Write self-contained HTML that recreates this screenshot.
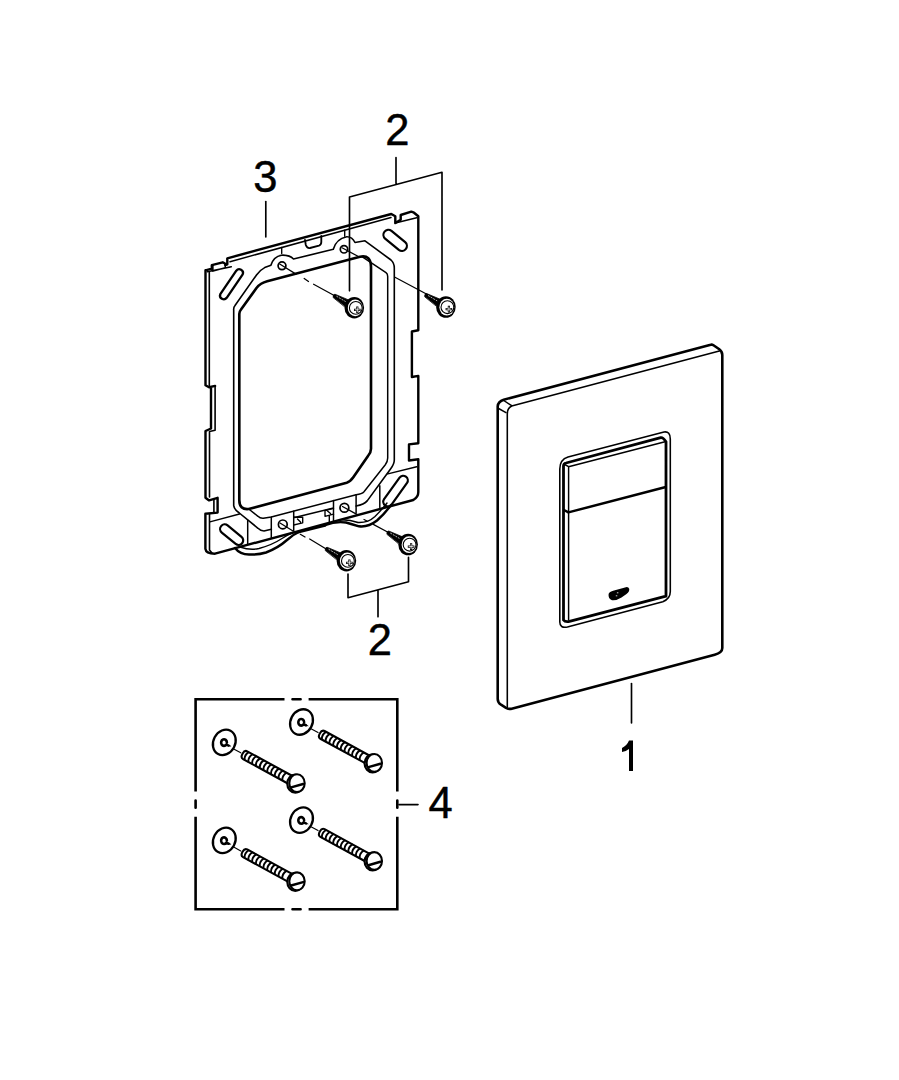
<!DOCTYPE html>
<html><head><meta charset="utf-8">
<style>
html,body{margin:0;padding:0;background:#fff;width:899px;height:1080px;overflow:hidden}
svg{position:absolute;left:0;top:0;display:block}
text{font-family:"Liberation Sans",sans-serif;font-size:43.5px;fill:#000;stroke:#000;stroke-width:0.45px}
</style></head><body>
<svg width="899" height="1080" viewBox="0 0 899 1080" fill="none" stroke="#000" stroke-linejoin="round" stroke-linecap="round">

<!-- ============ LABELS ============ -->
<g stroke="none">
<text x="385.3" y="144.8">2</text>
<text x="253.3" y="191.6">3</text>
<text x="367.8" y="654.5">2</text>
<path fill="#000" d="M629,740.5 H633 V771 H629 V749 Q626,751.5 622,752 V748 Q627,745.5 629,740.5 Z"/>
<text x="428.6" y="818.2">4</text>
</g>

<!-- leader lines -->
<g stroke-width="1.65">
<path d="M396,157.5 V183.5 M349.5,197 L442,172.3 M349.5,197 V290.8 M442,172.3 V290"/>
<path d="M265.8,201.5 V237"/>
<path d="M348,574 V597.7 L408.5,581.7 V557.4 M378,590 V616.8"/>
<path d="M631.5,683.5 V723"/>
<path d="M399,804.6 H418"/>
</g>

<!-- ============ FRAME (3) ============ -->
<g id="frame">
<!-- plate outline -->
<path stroke-width="2.42" d="M205.5,270.3 V385.3 L209,387.2 L215.1,385.9 M211,387.2 V428.5 L205.5,431 V497.8 L209.1,500.4 L217.6,497.8 V512.6 L205.4,513.7 V548.9 Q206,553.7 215,553.7 L413.3,500 Q418.3,497 418.3,492.2 V459.3 L409,460.5 V444.4 L418.3,443.2 V375.9 L411.9,377 V331.5 L418.3,330.3 V216.3 L414,212.7 L411.3,211.7 L400.7,215 V219.7 L395.3,223 V216.3 L391.3,214 L227.3,258.3 V264.3 L225.3,265 V263.7 L222.7,262.3 L211.8,265.2 V268.7 L205.5,270.3"/>
<!-- left thickness inner line -->
<path stroke-width="2.30" d="M212.5,265.5 V270.5"/><path stroke-width="1.61" d="M209.3,272 V386.5 M215.1,385.9 V430.3 L209.5,431.5 V497 M213.9,500 V512 M209.5,514 V550 L212,553"/>
<!-- top thickness inner line -->
<path stroke-width="1.49" d="M207.3,271.7 L231.3,266.7 M213,271 L225.3,267.7 M225.3,264 V268 M230,261.7 L391,217.5 M395.3,223 L416.7,217.8"/>
<!-- U cutout top -->
<path stroke-width="1.84" d="M305,240 L305.8,245 Q307,248.5 310,248 L319,245.6 Q321.3,244.8 321.3,242 V236"/>
<!-- fold tick -->
<path stroke-width="1.38" d="M344.7,230.3 V236.3 M281.7,247.5 V253.5"/>
<!-- top slots -->
<path stroke-width="2.30" d="M220.3,294.2 L236.3,270.7 A3.7,3.7 0 0 1 242.7,274.3 L226.7,297.8 A3.7,3.7 0 0 1 220.3,294.2 Z"/>
<path stroke-width="2.2" d="M385.12,238.56 L398.82,249.86 A5,5 0 0 0 405.18,242.15 L391.48,230.85 A5,5 0 0 0 385.12,238.56 Z"/>
<!-- bottom slots -->
<path stroke-width="2.2" d="M221.78,532.56 L235.68,543.96 A4.6,4.6 0 0 0 241.52,536.84 L227.62,525.44 A4.6,4.6 0 0 0 221.78,532.56 Z"/>
<path stroke-width="2.2" d="M384.07,499.22 L399.57,477.62 A4.6,4.6 0 0 1 407.04,482.98 L391.54,504.58 A4.6,4.6 0 0 1 384.07,499.22 Z"/>
<!-- fold line bottom -->
<path stroke-width="1.49" d="M209.9,521.9 L239.5,514 M387.8,473.9 L416.7,466.7"/>
<!-- holes -->
<circle cx="282" cy="265.8" r="3.9" stroke-width="1.72"/>
<circle cx="344" cy="249.3" r="3.7" stroke-width="1.72"/>
<circle cx="282.8" cy="524.4" r="4.4" stroke-width="1.72"/>
<circle cx="344.4" cy="507.8" r="4.4" stroke-width="1.72"/>
<!-- gasket thin outer -->
<path stroke-width="1.61" d="M271.3,529.3 L264,531 Q260.5,531 258,528.3 L239.3,513 Q234.5,510 233.7,505.7 V310 Q233.4,307.5 235,305.5 L256.5,275 Q260,270 264.7,267.6 L270.9,265.3 Q273.5,256.5 281.5,255.2 Q289.5,254.8 293.5,259 L333.3,249.3 Q336,239 346.7,236.7 Q352,236.5 355,242.5 L365,240.8 L391,260 Q394.3,263 394.3,268 V460 Q394.3,464 390.7,468.7 L367.4,500.6 Q364,504.5 356.1,506"/>
<!-- gasket thick inner -->
<path stroke-width="2.64" d="M239.3,314 Q239.3,311.5 241,309.5 L256.5,288 Q260.5,283 267.2,281.3 L360,256.8 Q371,254.5 371,267 V448.7 Q371,452.5 368,456 L353.3,477.3 Q350.5,481.5 346.7,482.7 L248.7,509 Q239.3,510 239.3,500 Z"/>
<!-- gasket middle thin -->
<path stroke-width="1.49" d="M362,256.6 L386,272.6 Q387.7,273.8 387.7,276.5 V458 Q387.7,461.5 385.3,464.7 L364,491.7 Q362,494 356.1,494.7 L271.3,517 L263.3,518.3 Q260,518.5 258,516.3 L248.7,509"/>
<!-- boxes at bottom -->
<path stroke-width="1.49" d="M271.3,517 V537.7 M293.7,511.2 V531 M333.5,500.6 V520.8 M356.1,494.7 V513 M379.8,485.8 V507.6 M247.7,520.3 V544.3 M293.7,517.7 L333.5,508"/>
<path stroke-width="1.38" d="M293.7,517.2 H302.7 V522.8 L293.7,525 M297.5,519 L300.5,522 M333.5,508.4 L325,510.5 V516.3 L333.5,514.2 M327.5,511 L330.5,513.5 M329.3,515.5 V522.3"/>
<!-- clips (curved springs) -->
<path stroke-width="2.42" d="M235,548 Q240,554.5 249,554.5 Q258,555 266,552.5 Q278,548 287,540 Q293,534.5 299,532"/>
<path stroke-width="1.38" d="M240,547 Q250,550.5 259,548.5 Q272,545 282,538.5 Q288,534.5 293,532.5"/>
<path stroke-width="2.76" d="M299,532 L325,525.5"/>
<path stroke-width="2.42" d="M325,525 Q336,521 346,522.5 Q353,524.5 359,526.3 Q368,527.5 377,520.5 Q385,513.5 391,505"/>
<path stroke-width="1.38" d="M340,519.8 Q350,519.5 358,522.5 Q368,523 375,516.5 Q382,509.5 387,503"/>
<!-- dashed lines to screws -->
<path stroke-width="1.26" d="M279.7,264 L296,274.1 M304.2,278.4 L308.5,281.5 M313.6,284.2 L334.2,295.5"/>
<path stroke-width="1.26" d="M342,247.8 L358.9,256.8 M394.5,277 L428.3,295"/>
<path stroke-width="1.26" d="M280,523 L293,531 M300.3,534.3 L305,537 M309.7,539 L327,549.5"/>
<path stroke-width="1.26" d="M342.5,506.5 L357.3,514.6 M364,519.5 L367,521 M373.3,524.4 L388,532.2"/>
</g>

<!-- ============ COVER PLATE (1) ============ -->
<g id="cover">
<!-- outer silhouette -->
<path stroke-width="2.58" d="M497.7,406.3 Q498,401.5 503.7,399.7 L710.7,344.7 Q712,344.3 713.5,345.3 L719.3,349.3 Q722.3,351.5 722.3,355 V648 Q722.3,652.5 714.7,654.7 L511.7,708.7 Q509,709.3 506,707.8 L501,704.7 Q497.7,702.5 497.7,699 Z"/>
<!-- front face edges -->
<path stroke-width="1.57" d="M507.3,707.3 V414 Q507.3,408 511.7,406 L719.3,351"/>
<path stroke-width="1.46" d="M503,400 L511.7,405.7 M497.7,408 L506,412.7"/>
<!-- button outer thin frame -->
<path stroke-width="1.57" d="M559.8,621.9 V469 Q559.8,459.5 568,457 L664,432 Q670.3,431 670.3,439 V591.6 Q670.3,599 662.8,601.7 L567.4,627 Q559.8,628.5 559.8,621.9 Z"/>
<!-- button thick -->
<path stroke-width="2.80" d="M563.5,620 V466 Q563.5,463.5 566,463 L660.7,437.7 Q663,437.2 666,441.7 V596.2 L569.5,621.4 Q565,622.2 563.5,620 Z"/>
<!-- button inner thin -->
<path stroke-width="1.46" d="M568.6,620 V466.7 L665,441.7 M563.8,464 L568.6,466.7"/>
<!-- divider -->
<path stroke-width="2.46" d="M568.4,512.4 L665.8,487 M564,510 L568.4,512.4"/>
<!-- logo -->
<path stroke="none" fill="#000" d="M608.6,594 Q608,598.8 612,600.2 Q616.5,600.8 621.5,597.6 L626.5,594 Q629.8,591.5 629.2,588.8 Q628.4,586.4 625,587.4 L614,590.4 Q609,591.6 608.6,594 Z"/>
<path stroke="#fff" stroke-width="0.8" d="M617.3,592.8 h0.7 M616.2,595.8 h0.7"/>
</g>

<!-- ============ BOX (4) ============ -->
<defs>
<g id="fscrew">
  <path fill="#000" stroke="#000" stroke-width="0.8" d="M-21.2,-10.5 Q-21.6,-13.2 -19.4,-13.5 L-5.84,-7.81 L-9.66,-1.35 Z"/>
  <path stroke="#fff" stroke-width="0.7" stroke-dasharray="1.2 1.8" d="M-17.5,-11.3 L-9,-6.3"/>
  <ellipse cx="0" cy="0" rx="9.8" ry="10.8" fill="#000" stroke="none"/>
  <ellipse cx="0.9" cy="0.2" rx="7.4" ry="8.4" fill="#fff" stroke="none"/>
  <circle cx="1.5" cy="0.2" r="6.4" fill="#fff" stroke="#000" stroke-width="1.1"/>
  <path stroke-width="2.2" stroke-linecap="butt" d="M-0.3,2.1 H6.3 M3,-1.2 V5.4"/>
  <path stroke="#fff" stroke-width="0.8" stroke-linecap="butt" d="M0.5,2.1 H5.5 M3,-0.4 V4.6"/>
</g>
<g id="bscrew">
  <g transform="rotate(28.6)">
    <path stroke-width="1.1" d="M-71,0 L-63.5,0"/>
    <path fill="#fff" stroke-width="2.1" d="M-8,-4.4 L-58.5,-4.4 Q-61.5,-4.4 -61.5,0 Q-61.5,4.4 -58.5,4.4 L-8,4.4"/>
    <path stroke-width="1.9" d="M-57,-4 q-2.2,4 0,8 M-52.7,-4 q-2.2,4 0,8 M-48.4,-4 q-2.2,4 0,8 M-44.1,-4 q-2.2,4 0,8 M-39.8,-4 q-2.2,4 0,8 M-35.5,-4 q-2.2,4 0,8 M-31.2,-4 q-2.2,4 0,8 M-26.9,-4 q-2.2,4 0,8 M-22.6,-4 q-2.2,4 0,8 M-18.3,-4 q-2.2,4 0,8 M-14,-4 q-2.2,4 0,8"/>
  </g>
  <ellipse cx="-1.2" cy="0.5" rx="8" ry="9" fill="#fff" stroke-width="2.2"/>
  <ellipse cx="0.5" cy="0" rx="7.7" ry="8.9" fill="#fff" stroke-width="2.1"/>
  <path stroke-width="2.5" d="M-5.4,4.2 L6.6,0.8"/>
</g>
<g id="washer">
  <ellipse cx="0" cy="0" rx="10.9" ry="13.2" transform="rotate(28)" stroke-width="2.3"/>
  <path stroke-width="2.6" d="M2.6,0.2 A2.9,3.3 0 1 0 2,2.3 L4.4,3.3"/>
  <path stroke-width="0.9" d="M4.8,3.2 L6.4,3.8"/>
</g>
</defs>
<use href="#fscrew" x="354.3" y="307.7"/>
<use href="#fscrew" x="445.9" y="307"/>
<use href="#fscrew" x="346.4" y="560.7"/>
<use href="#fscrew" x="408.1" y="544.5"/>
<g id="box">
<path stroke-width="2.6" stroke-linecap="butt" stroke-linejoin="miter" d="M284.5,699.2 H195.6 V791.5 M195.6,816.8 V909.3 H284.5 M308.6,909.3 H397.3 V816.8 M397.3,791.5 V699.2 H308.6"/>
<path stroke-width="2.6" d="M292.5,699.2 H300.6 M292.5,909.3 H300.6 M195.6,800.5 V807.8 M397.3,800.5 V807.8"/>
<use href="#washer" x="224.3" y="742.3"/>
<use href="#washer" x="301.5" y="722"/>
<use href="#washer" x="301.5" y="820.1"/>
<use href="#washer" x="224.3" y="840.4"/>
<use href="#bscrew" x="296.5" y="783.2"/>
<use href="#bscrew" x="373.8" y="762.9"/>
<use href="#bscrew" x="373.8" y="861"/>
<use href="#bscrew" x="296.5" y="881.3"/>
</g>

</svg>
</body></html>
